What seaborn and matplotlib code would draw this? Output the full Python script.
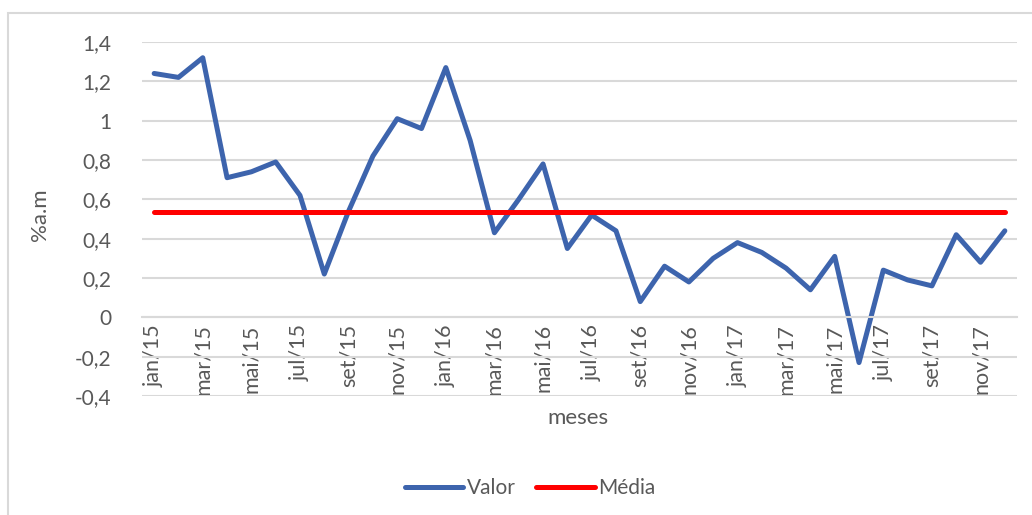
import pandas as pd
import matplotlib.pyplot as plt
import seaborn as sns
from matplotlib.patches import Rectangle

# meses jan/15 .. dez/17
meses = ['jan/15', 'fev/15', 'mar/15', 'abr/15', 'mai/15', 'jun/15',
         'jul/15', 'ago/15', 'set/15', 'out/15', 'nov/15', 'dez/15',
         'jan/16', 'fev/16', 'mar/16', 'abr/16', 'mai/16', 'jun/16',
         'jul/16', 'ago/16', 'set/16', 'out/16', 'nov/16', 'dez/16',
         'jan/17', 'fev/17', 'mar/17', 'abr/17', 'mai/17', 'jun/17',
         'jul/17', 'ago/17', 'set/17', 'out/17', 'nov/17', 'dez/17']

valor = [1.24, 1.22, 1.32, 0.71, 0.74, 0.79, 0.62, 0.22, 0.54, 0.82, 1.01, 0.96,
         1.27, 0.90, 0.43, 0.60, 0.78, 0.35, 0.52, 0.44, 0.08, 0.26, 0.18, 0.30,
         0.38, 0.33, 0.25, 0.14, 0.31, -0.23, 0.24, 0.19, 0.16, 0.42, 0.28, 0.44]

media = [0.534] * len(meses)

y_ticks = [-0.4, -0.2, 0, 0.2, 0.4, 0.6, 0.8, 1, 1.2, 1.4]
y_labels = ['-0,4', '-0,2', '0', '0,2', '0,4', '0,6', '0,8', '1', '1,2', '1,4']

BLUE = '#3d64ad'
RED = '#ff0000'
GRID = '#d9d9d9'
TEXT = '#595959'


def main():
    sns.set_style("white")
    plt.rcParams['font.family'] = ['Lato', 'DejaVu Sans']

    df = pd.DataFrame({'pos': range(len(meses)), 'Valor': valor, 'Média': media})
    long = df.melt(id_vars='pos', var_name='serie', value_name='v')

    fig = plt.figure(figsize=(10.32, 5.15), dpi=100)
    ax = fig.add_axes([142 / 1032, 1 - 396 / 515, 875 / 1032, 354 / 515])

    sns.lineplot(data=long, x='pos', y='v', hue='serie',
                 palette={'Valor': BLUE, 'Média': RED},
                 linewidth=3.6, ax=ax, legend=False,
                 solid_capstyle='round', solid_joinstyle='round')

    # eixo x cruzando em zero (antes dos ticks: set_position recria os ticks)
    for s in ['left', 'top', 'right']:
        ax.spines[s].set_visible(False)
    ax.spines['bottom'].set_position(('data', 0))
    ax.spines['bottom'].set_color(GRID)
    ax.spines['bottom'].set_linewidth(1.5)

    ax.set_xlim(-0.5, len(meses) - 0.5)
    ax.set_ylim(-0.4, 1.4)

    ax.set_yticks(y_ticks)
    ax.set_yticklabels(y_labels)
    ax.yaxis.grid(True, color=GRID, linewidth=1.5)
    ax.set_axisbelow(True)

    # rótulos a cada dois meses, marcas nas fronteiras
    ax.set_xticks(list(range(0, len(meses), 2)))
    ax.set_xticks([i - 0.5 for i in range(0, len(meses) + 1, 2)], minor=True)
    ax.tick_params(axis='x', which='major', length=0, pad=5,
                   labelsize=15.5, labelcolor=TEXT)
    ax.tick_params(axis='x', which='minor', length=6, width=1.5,
                   color=GRID, direction='out')
    ax.set_xticklabels(meses[::2], rotation=90, va='top', ha='center')
    ax.tick_params(axis='y', length=0, pad=22, labelsize=15, labelcolor=TEXT)

    ax.set_xlabel('')
    ax.set_ylabel('')
    fig.text(40 / 1032, 1 - 215 / 515, '%a.m', rotation=90, ha='center',
             va='center', fontsize=16, color=TEXT)
    fig.text(578 / 1032, 1 - 418 / 515, 'meses', ha='center', va='center',
             fontsize=16, color=TEXT)

    handles = [plt.Line2D([], [], color=BLUE, lw=3.6, solid_capstyle='round'),
               plt.Line2D([], [], color=RED, lw=3.6, solid_capstyle='round')]
    fig.legend(handles, ['Valor', 'Média'], loc='center',
               bbox_to_anchor=(530 / 1032, 1 - 488 / 515), ncol=2,
               frameon=False, fontsize=15, labelcolor=TEXT,
               handlelength=2.8, handletextpad=0.15, columnspacing=1.0)

    fig.patches.append(Rectangle((8 / 1032, -0.05), 1.1, 1 - 13 / 515 + 0.05,
                                 transform=fig.transFigure, fill=False,
                                 edgecolor=GRID, linewidth=1.5))

    fig.savefig('out.png', dpi=100)


if __name__ == "__main__":
    main()
